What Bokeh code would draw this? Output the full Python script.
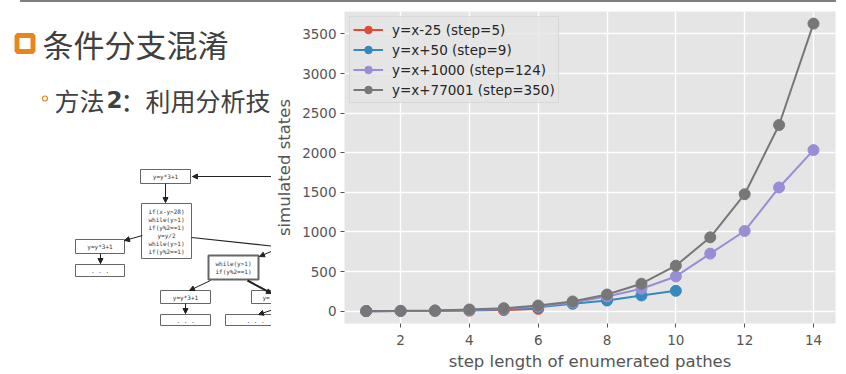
import math
from bokeh.plotting import figure
from bokeh.models import Range1d, FixedTicker
from bokeh.layouts import row, column
from bokeh.core.properties import value
from bokeh.embed import file_html
from bokeh.resources import INLINE

# ---------------- chart data ----------------
steps = [1, 2, 3, 4, 5, 6, 7, 8, 9, 10, 11, 12, 13, 14]
red_steps = steps[:6]
red_vals = [1, 2, 4, 8, 15, 30]
blue_steps = steps[:10]
blue_vals = [1, 3, 6, 12, 25, 50, 94, 135, 199, 258]
purple_vals = [1, 3, 7, 15, 30, 60, 110, 186, 284, 439, 727, 1013, 1562, 2034]
gray_vals = [2, 5, 10, 22, 38, 72, 123, 211, 347, 575, 933, 1477, 2350, 3630]
labels = ["y=x-25 (step=5)", "y=x+50 (step=9)", "y=x+1000 (step=124)", "y=x+77001 (step=350)"]
x_ticks = [2, 4, 6, 8, 10, 12, 14]
y_ticks = [0, 500, 1000, 1500, 2000, 2500, 3000, 3500]

# ---------------- slide texts ----------------
slide_title = "条件分支混淆"
slide_bullet_a = "方法"
slide_bullet_b = "2"
slide_bullet_c = "：利用分析技"

# flowchart illustration (boxes: left, top, right, bottom, text lines)
fc_boxes = [
    (140, 169, 190, 183, ["y=y*3+1"]),
    (141, 203, 191, 258, ["if(x-y>28)", "while(y>1)", "if(y%2==1)", "y=y/2", "while(y>1)", "if(y%2==1)"]),
    (75, 239, 124, 253, ["y=y*3+1"]),
    (75, 264, 124, 276, [". . ."]),
    (160, 290, 210, 303, ["y=y*3+1"]),
    (160, 314, 210, 325, [". . ."]),
    (225, 314, 285, 325, [". . ."]),
]
fc_clip_box = (251, 290, 300, 303, "y=")
fc_bold_box = (208, 255, 258, 279, ["while(y>1)", "if(y%2==1)"])
fc_arrows = [
    (275, 176, 192, 176),
    (165, 183, 165, 202),
    (142, 235, 124, 240),
    (100, 253, 100, 263),
    (273, 250, 259, 256),
    (210, 280, 189, 290),
    (185, 303, 185, 313),
    (273, 309, 258, 314),
]
fc_lines = [(191, 237, 275, 246)]
fc_bold_arrows = [(247, 280, 271, 293)]

W, H = 846, 374
TOP = 2
LEFT_W = 271

# ---------------- left (slide) figure ----------------
s = figure(width=LEFT_W, height=H - TOP, x_range=Range1d(0, LEFT_W), y_range=Range1d(H, TOP),
           min_border=0, toolbar_location=None, output_backend="svg")
s.axis.visible = False
s.grid.visible = False
s.outline_line_color = None

s.rect(x=[24.5], y=[43], width=16, height=16, fill_color=None, line_color="#E8861A", line_width=5)
s.text(x=[42], y=[43], text=[slide_title], text_font=value("Noto Sans CJK SC"),
       text_font_size="31px", text_baseline="middle", text_color="#404040")
s.scatter(x=[44.5], y=[98], size=5, fill_color=None, line_color="#E8861A", line_width=1.2)
s.text(x=[54], y=[99], text=[slide_bullet_a], text_font=value("Noto Sans CJK SC"),
       text_font_size="25px", text_baseline="middle", text_color="#404040")
s.text(x=[106], y=[99], text=[slide_bullet_b], text_font=value("DejaVu Sans"), text_font_style="bold",
       text_font_size="23px", text_baseline="middle", text_color="#404040")
s.text(x=[120], y=[99], text=[slide_bullet_c], text_font=value("Noto Sans CJK SC"),
       text_font_size="25px", text_baseline="middle", text_color="#404040")

def draw_box(b, lw):
    l, tp, r, bt, lines = b
    s.quad(left=[l], right=[r], top=[tp], bottom=[bt], fill_color="white", line_color="#666666", line_width=lw)
    n = len(lines)
    cy = (tp + bt) / 2
    ys = [cy + (i - (n - 1) / 2) * 8 for i in range(n)]
    s.text(x=[(l + r) / 2] * n, y=ys, text=lines, text_font=value("DejaVu Sans Mono"),
           text_font_size="6px", text_align="center", text_baseline="middle", text_color="#333333")

for b in fc_boxes:
    draw_box(b, 1)
draw_box(fc_bold_box, 2)
cl, ct, cr, cb, ctext = fc_clip_box
s.quad(left=[cl], right=[cr], top=[ct], bottom=[cb], fill_color="white", line_color="#666666", line_width=1)
s.text(x=[262], y=[(ct + cb) / 2], text=[ctext], text_font=value("DejaVu Sans Mono"),
       text_font_size="6px", text_align="left", text_baseline="middle", text_color="#333333")

def arrow(x0, y0, x1, y1, lw):
    s.segment(x0=[x0], y0=[y0], x1=[x1], y1=[y1], line_color="#222222", line_width=lw)
    ang = math.atan2(y1 - y0, x1 - x0)
    L, Wd = 5, 2.5
    bx, by = x1 - L * math.cos(ang), y1 - L * math.sin(ang)
    px, py = -math.sin(ang) * Wd, math.cos(ang) * Wd
    s.patch(x=[x1, bx + px, bx - px], y=[y1, by + py, by - py], fill_color="#222222", line_color="#222222")

for a in fc_arrows:
    arrow(*a, 1)
for a in fc_bold_arrows:
    arrow(*a, 2)
for l in fc_lines:
    s.segment(x0=[l[0]], y0=[l[1]], x1=[l[2]], y1=[l[3]], line_color="#222222", line_width=1.2)

# ---------------- chart figure ----------------
p = figure(width=W - LEFT_W, height=H - TOP, x_range=Range1d(0.37, 14.64), y_range=Range1d(-155, 3783),
           toolbar_location=None, output_backend="svg",
           min_border_left=73, min_border_right=11, min_border_top=9, min_border_bottom=51,
           background_fill_color="#E5E5E5", border_fill_color="white")
p.outline_line_color = None
p.grid.grid_line_color = "white"
p.grid.grid_line_width = 1.4
p.xaxis.ticker = FixedTicker(ticks=x_ticks)
p.yaxis.ticker = FixedTicker(ticks=y_ticks)
for ax in (p.xaxis, p.yaxis):
    ax.axis_line_color = None
    ax.major_tick_line_color = "#555555"
    ax.major_tick_out = 4
    ax.major_tick_in = 0
    ax.minor_tick_line_color = None
    ax.major_label_text_font = "DejaVu Sans"
    ax.major_label_text_font_size = "13.5px"
    ax.major_label_text_color = "#555555"
    ax.axis_label_text_font = "DejaVu Sans"
    ax.axis_label_text_font_size = "16.5px"
    ax.axis_label_text_font_style = "normal"
    ax.axis_label_text_color = "#555555"
p.xaxis.axis_label = "step length of enumerated pathes"
p.yaxis.axis_label = "simulated states"
p.xaxis.major_label_standoff = 7
p.xaxis.axis_label_standoff = 4
p.yaxis.major_label_standoff = 4
p.yaxis.axis_label_standoff = 5

series = [
    (red_steps, red_vals, "#E24A33", labels[0]),
    (blue_steps, blue_vals, "#348ABD", labels[1]),
    (steps, purple_vals, "#988ED5", labels[2]),
    (steps, gray_vals, "#777777", labels[3]),
]
for xs, ys, c, lab in series:
    p.line(xs, ys, line_color=c, line_width=2, legend_label=lab)
    p.scatter(xs, ys, size=11, fill_color=c, line_color=c, legend_label=lab)

lg = p.legend[0]
lg.location = "top_left"
lg.margin = 5
lg.padding = 3
lg.spacing = 1
lg.glyph_width = 30
lg.glyph_height = 19
lg.label_height = 19
lg.label_standoff = 9
lg.label_text_font = "DejaVu Sans"
lg.label_text_font_size = "13.5px"
lg.label_text_color = "#262626"
lg.background_fill_color = "#E5E5E5"
lg.background_fill_alpha = 0.8
lg.border_line_color = "#CCCCCC"
lg.border_line_width = 1

layout = row(column(s), p, styles={
    "padding-top": "2px",
    "background": "linear-gradient(#7F7F7F, #7F7F7F) 20px 0px / 816px 2px no-repeat",
})
open("out.html", "w").write(file_html(layout, INLINE))
